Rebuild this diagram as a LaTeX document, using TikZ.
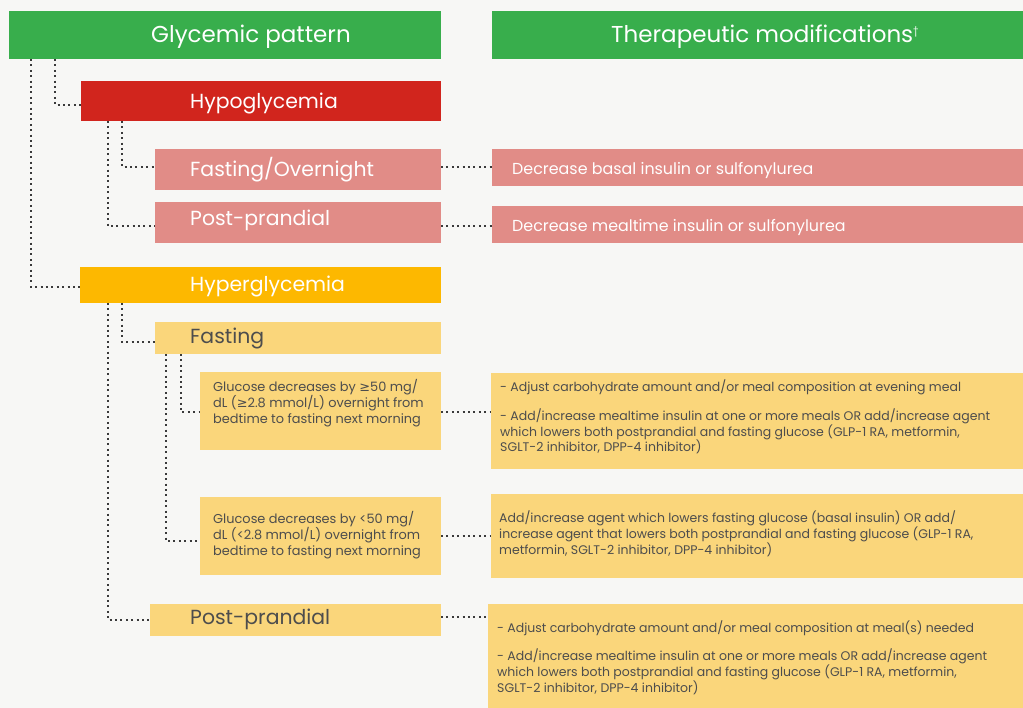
\documentclass[tikz,border=0pt]{standalone}
\usepackage{fontspec}
\setmainfont{Poppins}
\newfontfamily\symfont{DejaVu Sans}
\usetikzlibrary{positioning}

\definecolor{bggray}{HTML}{F7F7F5}
\definecolor{hdgreen}{HTML}{38AE4C}
\definecolor{hypored}{HTML}{D1251D}
\definecolor{hypopink}{HTML}{E18C87}
\definecolor{hyperorange}{HTML}{FDB800}
\definecolor{hyperyellow}{HTML}{FAD67B}
\definecolor{txtgray}{HTML}{4D4D4D}
\definecolor{dotgray}{HTML}{3A3A3A}

\begin{document}
\begin{tikzpicture}[x=1pt,y=-1pt,
  box/.style={anchor=north west,inner sep=0pt,outer sep=0pt},
  conn/.style={draw=dotgray,line width=2pt,dash pattern=on 2pt off 3.4pt},
  head/.style={anchor=base west,inner sep=0pt,text=white,font=\fontsize{23}{27}\selectfont},
  big/.style={anchor=base west,inner sep=0pt,text=white,font=\fontsize{20.4}{24}\selectfont},
  bigdark/.style={big,text=txtgray},
  mid/.style={anchor=base west,inner sep=0pt,text=white,font=\fontsize{15.9}{20}\selectfont},
  small/.style={anchor=base west,inner sep=0pt,text=txtgray,align=left,font=\fontsize{12.5}{16}\selectfont},
  cond/.style={small,font=\fontsize{12.9}{16}\selectfont},
  ]
\fill[bggray] (0,0) rectangle (1023,708);
\useasboundingbox (0,0) rectangle (1023,708);

% headers
\node[box,fill=hdgreen,minimum width=432,minimum height=48] (glyc) at (9,11) {};
\node[box,fill=hdgreen,minimum width=531,minimum height=48] (ther) at (492,11) {};
\node[head] (glyct) at (151,43) {Glycemic pattern};
\node[head] (thert) at (611,43) {Therapeutic modifications\raisebox{8pt}{\fontsize{10}{10}\selectfont †}};

% hypoglycemia branch
\node[box,fill=hypored,minimum width=360,minimum height=40] (hypo) at (81,81) {};
\node[box,fill=hypopink,minimum width=286,minimum height=41] (hfo) at (155,149) {};
\node[box,fill=hypopink,minimum width=286,minimum height=41] (hpp) at (155,202) {};
\node[box,fill=hypopink,minimum width=531,minimum height=37] (dbasal) at (492,149) {};
\node[box,fill=hypopink,minimum width=531,minimum height=37] (dmeal) at (492,206) {};
\node[big] (hypot) at (190,109) {Hypoglycemia};
\node[big] (hfot) at (190,177) {Fasting/Overnight};
\node[big] (hppt) at (190,226) {Post-prandial};
\node[mid] (dbasalt) at (512,175) {Decrease basal insulin or sulfonylurea};
\node[mid] (dmealt) at (512,232) {Decrease mealtime insulin or sulfonylurea};

% hyperglycemia branch
\node[box,fill=hyperorange,minimum width=361,minimum height=36] (hyper) at (80,267) {};
\node[box,fill=hyperyellow,minimum width=286,minimum height=32] (yfast) at (155,322) {};
\node[box,fill=hyperyellow,minimum width=241,minimum height=78] (gl1) at (200,372) {};
\node[box,fill=hyperyellow,minimum width=241,minimum height=78] (gl2) at (200,497) {};
\node[box,fill=hyperyellow,minimum width=291,minimum height=32] (ypp) at (150,604) {};
\node[box,fill=hyperyellow,minimum width=532,minimum height=96] (tfast1) at (491,373) {};
\node[box,fill=hyperyellow,minimum width=532,minimum height=84] (tfast2) at (491,494) {};
\node[box,fill=hyperyellow,minimum width=535,minimum height=104] (tpost) at (488,604) {};
\node[big] (hypert) at (190,292) {Hyperglycemia};
\node[bigdark] (yfastt) at (190,344) {Fasting};
\node[bigdark] (yppt) at (190,624) {Post-prandial};
% multi-line texts: placed at the baseline of their last line
\node[cond] (gl1t) at (213,424) {Glucose decreases by {\symfont ≥}50 mg/\\dL ({\symfont ≥}2.8 mmol/L) overnight from\\bedtime to fasting next morning};
\node[cond] (gl2t) at (213,555) {Glucose decreases by <50 mg/\\dL (<2.8 mmol/L) overnight from\\bedtime to fasting next morning};
\node[small] (tfast1t) at (500,452) {- Adjust carbohydrate amount and/or meal composition at evening meal\\[12pt]- Add/increase mealtime insulin at one or more meals OR add/increase agent\\which lowers both postprandial and fasting glucose (GLP-1 RA, metformin,\\SGLT-2 inhibitor, DPP-4 inhibitor)};
\node[small] (tfast2t) at (499,554) {Add/increase agent which lowers fasting glucose (basal insulin) OR add/\\increase agent that lowers both postprandial and fasting glucose (GLP-1 RA,\\metformin, SGLT-2 inhibitor, DPP-4 inhibitor)};
\node[small] (tpostt) at (497,692) {- Adjust carbohydrate amount and/or meal composition at meal(s) needed\\[12pt]- Add/increase mealtime insulin at one or more meals OR add/increase agent\\which lowers both postprandial and fasting glucose (GLP-1 RA, metformin,\\SGLT-2 inhibitor, DPP-4 inhibitor)};

% dotted connectors, left tree
\draw[conn] ([xshift=22pt]glyc.south west) |- ([yshift=-2pt]hyper.west);
\draw[conn] ([xshift=46pt]glyc.south west) |- ([yshift=-4pt]hypo.west);
\draw[conn] ([xshift=41pt]hypo.south west) |- ([yshift=2.5pt]hfo.west);
\draw[conn] ([xshift=27pt]hypo.south west) |- ([yshift=-3.5pt]hpp.west);
\draw[conn] ([xshift=42pt]hyper.south west) |- ([yshift=-4pt]yfast.west);
\draw[conn] ([xshift=28pt]hyper.south west) |- (ypp.west);
\draw[conn] ([xshift=26pt]yfast.south west) |- ([yshift=-1pt]gl1.west);
\draw[conn] ([xshift=11pt]yfast.south west) |- ([yshift=-5pt]gl2.west);

% dotted connectors to the right column
\draw[conn] ([yshift=2.5pt]hfo.east) -- ([yshift=2.5pt]hfo.east -| dbasal.west);
\draw[conn] ([yshift=-3.5pt]hpp.east) -- ([yshift=-3.5pt]hpp.east -| dmeal.west);
\draw[conn] ([yshift=-1pt]gl1.east) -- ([yshift=-1pt]gl1.east -| tfast1.west);
\draw[conn] (gl2.east) -- (gl2.east -| tfast2.west);
\draw[conn] ([yshift=3pt]ypp.east) -- ([yshift=3pt]ypp.east -| tpost.west);
\end{tikzpicture}
\end{document}
